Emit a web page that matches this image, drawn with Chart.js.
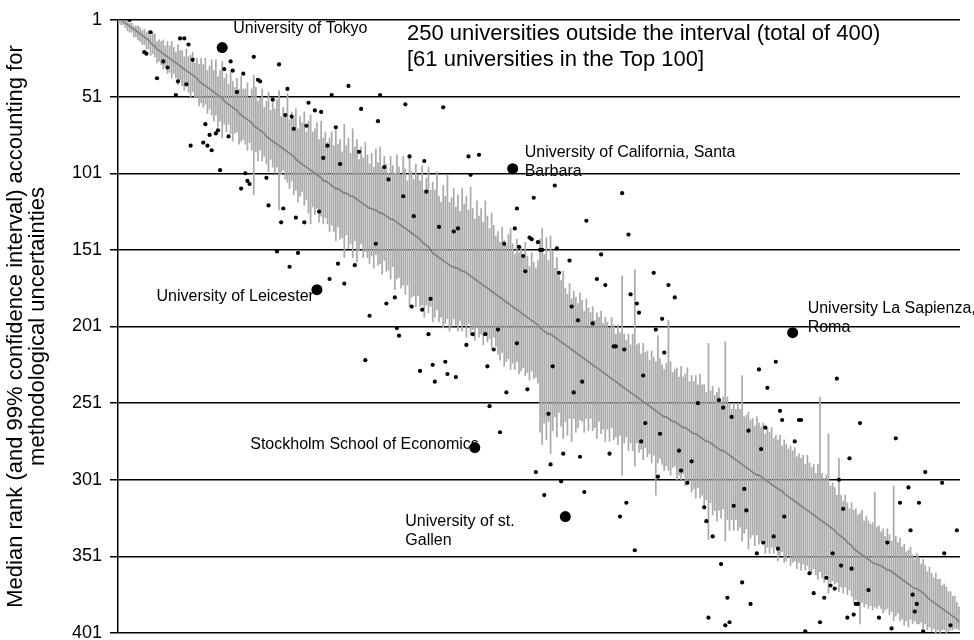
<!DOCTYPE html>
<html><head><meta charset="utf-8">
<script src="https://cdn.jsdelivr.net/npm/chart.js@4/dist/chart.umd.min.js"></script>
<style>html,body{margin:0;padding:0;background:#fff}</style>
</head><body>
<canvas id="c" width="974" height="640"></canvas>
<script>
// ---- DATA ----
const tickLabels = [1, 51, 101, 151, 201, 251, 301, 351, 401];

// median rank of each of the 400 universities (x position = order 1..400)
const medianRank = [
1,1,2,3,4,5,6,7,8,9, 10,11,12,13,14,16,17,18,20,21,
22,23,24,25,26,27,28,29,30,31, 32,33,34,35,36,37,38,39,41,42,
43,44,45,46,47,48,49,50,51,52, 54,55,56,57,58,59,60,62,63,64,
65,66,67,68,70,71,72,73,74,75, 77,78,79,80,81,82,83,84,85,86,
87,88,89,90,92,93,94,95,96,97, 98,99,100,101,102,103,104,106,106,107,
108,109,110,111,111,112,113,114,114,115, 116,116,117,118,119,120,121,122,123,124,
124,125,125,126,127,127,128,129,130,131, 131,132,133,134,135,136,137,138,139,140,
141,142,143,144,146,147,148,149,151,153, 154,155,156,157,158,159,160,161,162,162,
163,163,164,165,165,166,167,168,169,170, 171,172,173,174,175,176,177,178,179,180,
181,182,183,184,185,186,187,188,189,190, 191,192,193,194,195,196,197,198,199,200,
202,203,204,205,206,206,207,208,209,210, 211,212,213,214,215,216,217,218,219,220,
221,222,223,224,225,226,227,228,229,230, 231,232,233,234,235,236,237,238,239,240,
241,242,243,244,245,246,247,248,249,250, 251,252,253,254,255,256,257,258,259,260,
260,261,262,263,263,264,265,266,267,267, 268,269,270,271,271,272,273,274,275,276,
276,277,278,279,280,281,282,282,283,284, 285,286,287,288,289,290,291,292,293,294,
295,296,297,298,298,299,300,301,302,303, 304,305,306,307,308,308,310,311,312,313,
314,315,316,317,318,319,320,321,322,323, 324,325,326,327,328,329,330,331,332,333,
334,336,337,338,339,340,342,343,344,346, 347,348,349,350,351,352,353,354,355,356,
356,357,357,358,359,360,360,361,362,363, 364,365,366,367,368,369,370,371,372,372,
373,374,375,376,378,379,380,381,382,383, 384,385,386,387,388,389,390,391,392,394
];

// extent of the 99% interval above the median (towards rank 1)
const ciUpper = [
0,0,1,1,2,2,3,2,3,4,4,3,5,4,6,5,7,8,5,7,
7,9,6,10,8,12,9,7,13,10,11,8,14,10,12,15,9,13,11,16,
13,18,11,15,20,14,22,12,17,24,15,19,13,23,17,14,21,16,25,18,
19,24,15,22,33,26,18,21,28,17,23,30,19,25,22,29,36,20,27,24,
38,22,28,25,33,21,30,27,35,23,31,36,26,29,34,24,37,28,32,26,
30,35,27,38,29,33,26,45,31,37,28,44,33,39,27,36,30,41,34,29,
36,28,40,32,43,30,38,34,29,41,35,31,44,37,33,46,39,32,48,40,
36,47,41,38,50,35,44,52,39,46,42,55,40,37,49,43,58,41,45,51,
40,48,38,54,44,50,42,58,45,39,52,43,49,41,56,47,40,51,44,38,
42,36,47,39,37,45,50,41,35,46,38,43,37,48,40,34,44,39,36,42,
58,66,50,62,48,64,55,45,53,42,40,47,37,34,42,33,39,36,33,41,
37,31,40,35,33,38,30,36,34,39,32,37,35,32,40,36,31,38,34,72,
35,32,37,31,39,82,34,36,30,38,33,35,30,37,34,32,50,36,33,31,
35,64,38,32,34,36,31,39,33,35,40,32,37,34,38,33,41,35,36,32,
64,34,38,33,36,40,32,35,72,37,34,31,36,33,38,35,58,32,34,37,
33,35,31,38,34,32,36,30,35,33,37,31,34,32,36,29,35,33,31,34,
32,35,30,33,31,34,29,36,32,30,33,28,35,80,31,29,32,60,27,30,
28,25,50,27,24,29,26,23,28,25,27,24,26,29,23,27,25,24,26,47,
24,26,22,25,21,27,23,20,57,25,22,26,21,24,20,22,25,21,19,23,
21,18,22,19,17,21,18,16,20,17,18,15,17,16,14,15,13,14,11,10
];

// extent of the 99% interval below the median (towards rank 401)
const ciLower = [
2,3,2,3,4,4,3,5,4,5,5,6,5,7,6,8,6,7,9,7,
8,10,7,11,9,12,8,10,13,9,12,14,10,13,15,11,14,12,16,13,
15,12,17,13,16,19,14,21,16,26,15,19,13,18,22,16,14,20,17,15,
17,20,14,18,45,16,21,13,19,15,18,22,13,17,20,15,42,18,14,19,
20,23,17,25,20,27,22,18,26,21,29,35,23,27,22,30,25,28,24,27,
31,26,29,34,25,32,30,42,27,35,31,40,28,41,32,27,35,30,33,36,
31,38,29,35,33,40,30,36,34,39,31,45,37,35,41,38,43,36,49,42,
40,46,38,44,41,48,39,43,37,45,41,35,42,38,44,40,36,43,39,34,
37,41,33,39,35,42,32,38,34,40,31,36,33,39,30,35,32,37,29,34,
38,41,35,43,39,36,42,37,40,34,41,38,35,39,36,40,33,37,35,38,
68,75,60,70,57,78,62,52,64,47,55,62,50,58,46,60,44,52,48,42,
42,48,38,45,36,43,40,46,34,41,37,44,35,42,32,39,36,40,33,58,
36,31,39,33,37,46,30,35,32,38,29,34,31,36,30,55,33,29,32,35,
32,34,36,30,29,37,33,35,30,38,34,32,39,36,42,34,40,37,44,38,
64,39,46,42,48,40,44,38,58,43,49,41,47,39,45,42,50,44,40,52,
44,41,47,39,45,42,40,48,43,46,41,44,39,47,42,40,45,43,38,44,
41,39,43,38,42,37,40,36,41,39,35,38,40,34,37,39,33,44,36,34,
35,32,37,33,36,31,34,30,33,35,32,34,46,31,33,30,32,29,31,28,
29,26,28,30,27,25,29,26,31,27,24,28,26,29,25,28,22,24,21,23,
22,20,23,19,21,18,20,17,19,16,17,14,13,15,12,10,9,7,6,5
];

// universities whose actual rank lies outside their interval: [order, rank]
const outsideRanks = [
[6,1],[16,9],[13,22],[14,23],[30,13],[32,13],[34,17],[36,27],[22,28],[24,32],[19,39],[29,41],[33,43],[28,50],
[54,28],[51,33],[55,34],[60,36],[65,25],[67,40],[68,41],[77,30],[57,48],[81,46],[110,44],[102,50],[125,50],
[74,53],[91,55],[94,60],[97,61],[80,63],[83,64],[116,59],[124,67],[84,72],[90,70],[104,71],[100,83],[115,87],
[98,91],[106,95],[127,97],[129,105],[42,69],[48,73],[47,75],[44,76],[53,77],[35,83],[41,81],[43,83],[45,86],
[49,99],[61,101],[62,106],[63,108],[59,111],[71,104],[72,122],[79,124],[78,133],[85,130],[89,133],[96,126],
[76,152],[86,153],[82,162],[105,160],[113,161],[101,170],[108,173],[132,182],[128,186],[120,194],[133,202],
[134,207],[123,147],[118,223],[137,56],[155,58],[139,90],[146,93],[167,90],[172,89],[168,102],[136,116],
[147,113],[141,129],[153,136],[160,139],[162,137],[198,117],[190,124],[189,137],[196,143],[197,144],[200,146],
[201,151],[184,147],[191,149],[193,155],[194,165],[149,183],[140,188],[145,190],[148,206],[169,206],[175,206],
[166,213],[181,203],[179,216],[190,212],[176,227],[144,230],[150,226],[156,224],[157,232],[161,234],[151,237],
[185,244],[195,242],[177,253],[182,270],[208,109],[240,114],[223,132],[243,141],[202,151],[209,150],[230,154],
[215,158],[210,166],[228,170],[232,174],[255,166],[262,174],[265,182],[244,180],[247,186],[248,192],[216,188],
[219,197],[226,199],[259,196],[256,203],[236,214],[237,214],[241,216],[260,218],[207,227],[221,237],[217,244],
[250,233],[205,258],[251,264],[258,271],[249,276],[212,284],[220,286],[234,284],[206,291],[267,282],[268,295],
[257,299],[211,302],[203,311],[222,309],[199,296],[242,316],[239,325],[246,347],[313,224],[305,229],[309,241],
[286,249],[315,256],[316,262],[276,251],[288,254],[292,260],[300,269],[308,267],[324,262],[325,262],[322,276],
[306,281],[273,289],[271,303],[298,307],[293,318],[299,321],[279,319],[280,328],[317,325],[283,338],[307,342],
[312,338],[314,346],[304,349],[287,356],[329,362],[337,365],[342,235],[353,264],[370,274],[348,287],[343,301],
[384,296],[392,303],[297,368],[290,378],[301,382],[281,391],[289,396],[291,394],[327,400],[339,370],[341,372],
[331,375],[336,378],[334,394],[345,320],[340,349],[344,357],[349,359],[357,373],[351,382],[352,382],[347,391],
[350,389],[362,391],[368,398],[372,316],[376,306],[381,316],[377,334],[366,342],[378,376],[380,382],[379,387],
[383,400],[393,349],[399,334],[396,396]
];

// highlighted universities
const namedUniversities = ["University of Tokyo", "University of California, Santa Barbara", "University of Leicester",
  "Stockholm School of Economics", "University of st. Gallen", "University La Sapienza, Roma"];
const namedOrder = [50, 188, 95, 170, 213, 321];
const namedRank  = [19, 98, 177, 280, 325, 205];

const noteLines = ["250 universities outside the interval (total of 400)", "[61 universities in the Top 100]"];

// ---- LAYOUT / STYLE (not data) ----
const FONT = '"Liberation Sans", Arial, Helvetica, sans-serif';
const labelLayout = [
  {lines:["University of Tokyo"], dx:11, dy:-19, align:'left'},
  {lines:["University of California, Santa","Barbara"], dx:12, dy:-16, align:'left'},
  {lines:["University of Leicester"], dx:-3, dy:7, align:'right'},
  {lines:["Stockholm School of Economics"], dx:4, dy:-3, align:'right'},
  {lines:["University of st.","Gallen"], dx:-160, dy:5, align:'left'},
  {lines:["University La Sapienza,","Roma"], dx:15, dy:-24, align:'left'}
];

const labelPlugin = {
  id: 'labels',
  afterDatasetsDraw(chart) {
    const {ctx, scales: {x, y}} = chart;
    ctx.save();
    ctx.fillStyle = '#000';
    ctx.textBaseline = 'middle';
    ctx.font = '16px ' + FONT;
    namedUniversities.forEach((n, i) => {
      const px = x.getPixelForValue(namedOrder[i]);
      const py = y.getPixelForValue(namedRank[i]);
      const L = labelLayout[i];
      ctx.textAlign = L.align;
      L.lines.forEach((t, j) => ctx.fillText(t, px + L.dx, py + L.dy + j * 19));
    });
    ctx.font = '22px ' + FONT;
    ctx.textAlign = 'left';
    noteLines.forEach((t, j) => ctx.fillText(t, 407, 34 + j * 26));
    ctx.restore();
  }
};

const bars = medianRank.map((m, i) => ({x: i + 1, y: [m - ciUpper[i], m + ciLower[i]]}));
const medians = medianRank.map((m, i) => ({x: i + 1, y: m}));
const dots = outsideRanks.map(p => ({x: p[0], y: p[1]}));
const bigDots = namedOrder.map((o, i) => ({x: o, y: namedRank[i]}));

new Chart(document.getElementById('c'), {
  type: 'bar',
  data: {
    datasets: [
      {type: 'scatter', data: bigDots, backgroundColor: '#000', borderWidth: 0, pointRadius: 5.5, order: 0},
      {type: 'scatter', data: dots, backgroundColor: '#000', borderWidth: 0, pointRadius: 2.1, order: 1},
      {type: 'line', data: medians, borderColor: '#808080', borderWidth: 1.6, pointRadius: 0, order: 2},
      {type: 'bar', data: bars, backgroundColor: '#aaaaaa', barThickness: 1.05, grouped: false, order: 3}
    ]
  },
  options: {
    responsive: false,
    animation: false,
    devicePixelRatio: 1,
    layout: {padding: {top: 20, bottom: 7, right: 14, left: 0}},
    plugins: {legend: {display: false}, tooltip: {enabled: false}},
    scales: {
      x: {type: 'linear', min: 0.5, max: 400.5, display: false, offset: false},
      y: {
        type: 'linear', reverse: true, min: 1, max: 401,
        afterBuildTicks: s => { s.ticks = tickLabels.map(v => ({value: v})); },
        afterFit: s => { s.width = 118; s.paddingTop = 0; s.paddingBottom = 0; },
        grid: {color: '#000', lineWidth: 1.5, tickLength: 8, drawOnChartArea: true},
        border: {display: true, color: '#000', width: 1.5},
        ticks: {color: '#000', padding: 8, font: {family: FONT, size: 18}},
        title: {display: true, text: ["Median rank (and 99% confidence interval) accounting for", "methodological uncertainties"],
                color: '#000', font: {family: FONT, size: 22, lineHeight: 1.0}, padding: {top: 5, bottom: 0}}
      }
    }
  },
  plugins: [labelPlugin]
});
</script>
</body></html>
